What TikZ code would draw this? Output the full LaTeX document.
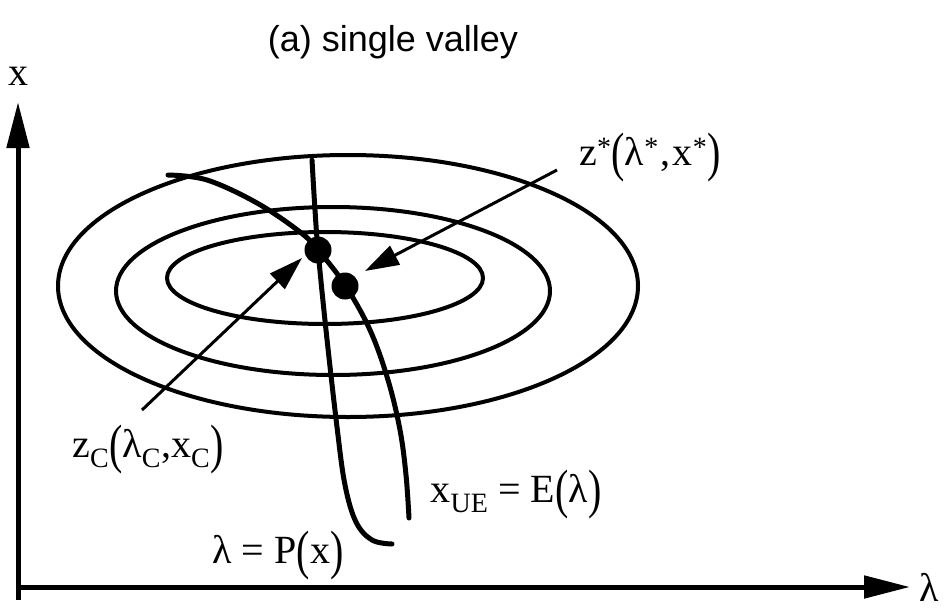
\documentclass[tikz,border=0pt]{standalone}
\usepackage{fontspec}
\setmainfont{Liberation Serif}
\newfontfamily\titlefont{Liberation Sans}
\usetikzlibrary{arrows.meta}
\newcommand{\BL}{\raisebox{-0.14em}{\scalebox{1}[1.35]{(}}}
\newcommand{\BR}{\raisebox{-0.14em}{\scalebox{1}[1.35]{)}}}
\tikzset{
  lab/.style={font=\fontsize{40}{44}\selectfont, inner sep=0pt},
  axis/.style={line width=5pt, -{Triangle[length=46pt,width=22pt]}},
  curve/.style={line width=5pt, line cap=round},
  contour/.style={line width=4pt},
  pointer/.style={line width=3pt, -{Triangle[length=34pt,width=21pt]}},
  dotst/.style={circle, fill=black, inner sep=0pt}
}
\begin{document}
\begin{tikzpicture}[x=1pt,y=-1pt]
\useasboundingbox (0,0) rectangle (945,608);
\node[font=\titlefont\fontsize{36}{40}\selectfont, inner sep=0pt] (title) at (393,42) {(a) single valley};
% axes
\coordinate (xtip) at (18,102);
\coordinate (ltip) at (910,587);
\draw[axis] (18,600) -- (xtip);
\draw[axis] (16,587) -- (ltip);
\node[lab] (xlab) at (19,76) {x};
\node[lab] (llab) at (929,587) {λ};
% contours
\draw[contour] (348,286) ellipse [x radius=290pt, y radius=131pt];
\draw[contour] (333,291) ellipse [x radius=217pt, y radius=84pt];
\draw[contour] (325,278) ellipse [x radius=158pt, y radius=46pt];
% curves
\draw[curve] plot[smooth, tension=0.6] coordinates {(312,160) (315,210) (318,250) (326,330) (337,427) (345,485) (356,522) (372,540) (392,544)};
\draw[curve] plot[smooth, tension=0.6] coordinates {(168,175) (207,180) (257,203) (300,232) (318,250) (345,285) (370,330) (388,380) (400,430) (406,475) (409,518)};
% dots
\node[dotst, minimum size=27pt] (dc) at (318,250) {};
\node[dotst, minimum size=27pt] (ds) at (345,286) {};
% labels
\node[lab] (zs) at (650,158) {z\textsuperscript{*}\BL λ\textsuperscript{*}\kern.05em,\kern.05em x\textsuperscript{*}\BR};
\node[lab] (zc) at (148,450) {z\textsubscript{C}\BL λ\textsubscript{C},x\textsubscript{C}\BR};
\node[lab] (ue) at (516,495) {x\textsubscript{UE} = E\BL λ\BR};
\node[lab] (pp) at (278,556) {λ = P\BL x\BR};
% pointers
\coordinate (zstail) at (557,170);
\coordinate (zshead) at (365,271);
\coordinate (zctail) at (142,410);
\coordinate (zchead) at (302,258);
\draw[pointer] (zstail) -- (zshead);
\draw[pointer] (zctail) -- (zchead);
\end{tikzpicture}
\end{document}
